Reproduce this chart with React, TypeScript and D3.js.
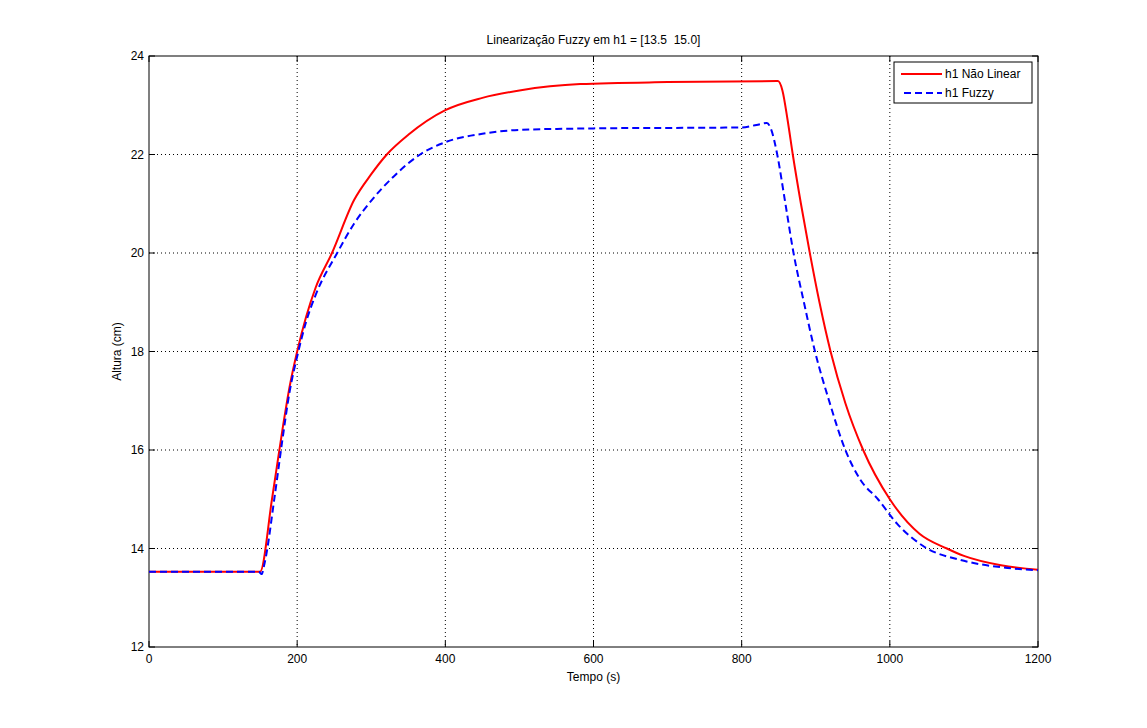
import * as d3 from "d3";

const xTicks = [0, 200, 400, 600, 800, 1000, 1200];
const yTicks = [12, 14, 16, 18, 20, 22, 24];

const redT = [0, 150, 166, 180, 190, 200, 212, 225, 247, 277, 300, 321, 350, 400, 450, 500, 582, 700, 849, 855, 862, 869, 880, 892, 905, 920, 940, 964, 1000, 1040, 1077, 1100, 1150, 1200];
const redH = [13.53, 13.53, 15.0, 16.4, 17.3, 18.0, 18.7, 19.3, 20.0, 21.08, 21.6, 22.0, 22.4, 22.9, 23.15, 23.3, 23.43, 23.47, 23.49, 23.3, 22.7, 22.0, 21.0, 20.0, 19.0, 18.0, 16.95, 16.0, 15.0, 14.3, 14.0, 13.85, 13.66, 13.57];
const blueT = [0, 148, 152, 156, 170, 180, 190, 200, 212, 225, 254, 277, 301, 330, 366, 400, 450, 500, 600, 800, 820, 834, 840, 848, 858, 870, 884, 899, 918, 940, 960, 984, 1010, 1045, 1100, 1150, 1200];
const blueH = [13.53, 13.53, 13.48, 13.7, 15.1, 16.2, 17.2, 17.9, 18.6, 19.15, 20.0, 20.6, 21.08, 21.55, 22.0, 22.25, 22.42, 22.5, 22.53, 22.55, 22.6, 22.64, 22.5, 22.0, 21.1, 20.0, 19.0, 18.0, 17.0, 16.0, 15.4, 15.0, 14.5, 14.05, 13.75, 13.62, 13.56];

const W = 1147, H = 728;
const m = { left: 149, right: 1038, top: 56, bottom: 647 };
const font = "Arial, 'Liberation Sans', sans-serif";

export default function App() {
  const x = d3.scaleLinear().domain([0, 1200]).range([m.left, m.right]);
  const y = d3.scaleLinear().domain([12, 24]).range([m.bottom, m.top]);
  const line = d3.line<[number, number]>().x(d => x(d[0])).y(d => y(d[1])).curve(d3.curveMonotoneX);
  const red = line(redT.map((t, i) => [t, redH[i]]))!;
  const blue = line(blueT.map((t, i) => [t, blueH[i]]))!;
  return (
    <svg width={W} height={H} style={{ position: "absolute", left: 0, top: 0, background: "#fff" }} fontFamily={font}>
      <rect x={0} y={0} width={W} height={H} fill="#fff" />
      {xTicks.map(t => (
        <g key={"x" + t}>
          {t > 0 && t < 1200 && <line x1={x(t)} x2={x(t)} y1={m.top} y2={m.bottom} stroke="#000" strokeWidth={1} strokeDasharray="1,3" />}
          <line x1={x(t)} x2={x(t)} y1={m.bottom} y2={m.bottom - 6} stroke="#000" />
          <line x1={x(t)} x2={x(t)} y1={m.top} y2={m.top + 6} stroke="#000" />
          <text x={x(t)} y={m.bottom + 16} fontSize={12} textAnchor="middle">{t}</text>
        </g>
      ))}
      {yTicks.map(t => (
        <g key={"y" + t}>
          {t > 12 && t < 24 && <line x1={m.left} x2={m.right} y1={y(t)} y2={y(t)} stroke="#000" strokeWidth={1} strokeDasharray="1,3" />}
          <line x1={m.left} x2={m.left + 6} y1={y(t)} y2={y(t)} stroke="#000" />
          <line x1={m.right} x2={m.right - 6} y1={y(t)} y2={y(t)} stroke="#000" />
          <text x={m.left - 5} y={y(t) + 4} fontSize={12} textAnchor="end">{t}</text>
        </g>
      ))}
      <rect x={m.left} y={m.top} width={m.right - m.left} height={m.bottom - m.top} fill="none" stroke="#000" />
      <path d={red} fill="none" stroke="#ff0000" strokeWidth={2} />
      <path d={blue} fill="none" stroke="#0000ff" strokeWidth={2} strokeDasharray="7,4" />
      <text x={(m.left + m.right) / 2} y={44} fontSize={12} textAnchor="middle" style={{ whiteSpace: "pre" }}>Linearização Fuzzy em h1 = [13.5  15.0]</text>
      <text x={(m.left + m.right) / 2} y={681} fontSize={12} textAnchor="middle">Tempo (s)</text>
      <text transform={`translate(121,${(m.top + m.bottom) / 2}) rotate(-90)`} fontSize={12} textAnchor="middle">Altura (cm)</text>
      <g>
        <rect x={894} y={62} width={138} height={41} fill="#fff" stroke="#000" />
        <line x1={901} x2={942} y1={74} y2={74} stroke="#ff0000" strokeWidth={2} />
        <text x={945} y={78} fontSize={12}>h1 Não Linear</text>
        <line x1={904} x2={942} y1={93} y2={93} stroke="#0000ff" strokeWidth={2} strokeDasharray="7,4" />
        <text x={945} y={97} fontSize={12}>h1 Fuzzy</text>
      </g>
    </svg>
  );
}
